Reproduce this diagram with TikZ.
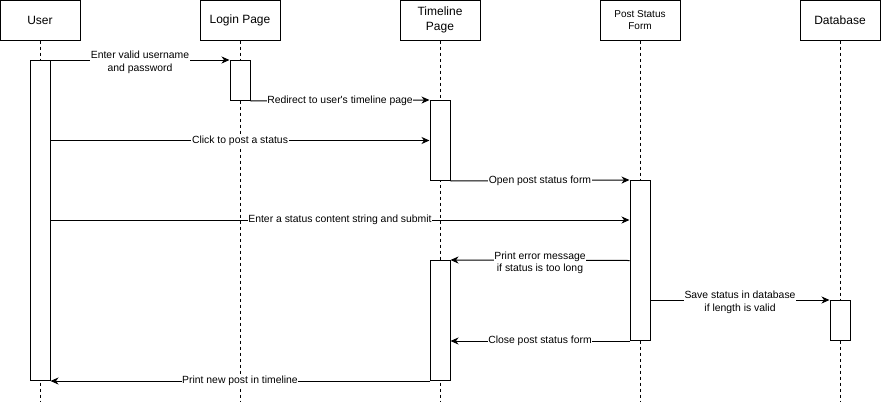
\documentclass[tikz,border=0pt]{standalone}
\usepackage{fontspec}
\setmainfont{Liberation Sans}
\usetikzlibrary{arrows.meta,calc}
\tikzstyle{head}=[rectangle, draw=black, fill=white, line width=1pt, minimum width=80pt, minimum height=40pt, inner sep=0pt, align=center, font=\fontsize{12}{14.5}\selectfont]
\tikzstyle{act}=[rectangle, draw=black, fill=white, line width=1pt, minimum width=20pt, inner sep=0pt, anchor=north]
\tikzstyle{life}=[line width=1pt, dash pattern=on 3pt off 3pt]
\tikzstyle{msg}=[line width=1pt, -{Stealth[length=8pt,width=7pt,inset=2.5pt]}]
\tikzstyle{annot}=[fill=white, inner sep=0.6pt, align=center, font=\fontsize{10.4}{12.5}\selectfont]
\tikzstyle{annot2}=[annot, yshift=-2.5pt]

\begin{document}
\begin{tikzpicture}[x=1pt, y=-1pt]
	\useasboundingbox (0,0) rectangle (881,402);
	\coordinate (bot) at (0,402);

	% lifeline heads
	\node[head](user) at (40,20){User};
	\node[head](login) at (240,20){Login Page};
	\node[head](timeline) at (440,20){Timeline\\Page};
	\node[head, font=\fontsize{10}{12}\selectfont](form) at (640,20){Post Status\\Form};
	\node[head](db) at (840,20){Database};

	\foreach \n in {user,login,timeline,form,db}
		\draw[life] (\n.south) -- (\n.south |- bot);

	% activations
	\node[act, minimum height=320pt](uact) at (40,60){};
	\node[act, minimum height=40pt](lact) at (240,60){};
	\node[act, minimum height=80pt](tact1) at (440,100){};
	\node[act, minimum height=120pt](tact2) at (440,260){};
	\node[act, minimum height=160pt](fact) at (640,180){};
	\node[act, minimum height=40pt](dact) at (840,300){};

	\coordinate (row5) at (0,220);

	% messages
	\draw[msg] (uact.north east) -- node[annot2]{Enter valid username\\and password} (lact.north west);
	\draw[msg] (lact.south east) -- node[annot]{Redirect to user\textquotesingle s timeline page} (tact1.north west);
	\draw[msg] (uact.east |- tact1.west) -- node[annot]{Click to post a status} (tact1.west);
	\draw[msg] (tact1.south east) -- node[annot]{Open post status form} (fact.north west);
	\draw[msg] (uact.east |- row5) -- node[annot]{Enter a status content string and submit} (fact.west |- row5);
	\draw[msg] (fact.west) -- node[annot2]{Print error message\\if status is too long} (tact2.north east);
	\draw[msg] (fact.east |- dact.north) -- node[annot2]{Save status in database\\if length is valid} (dact.north west);
	\draw[msg] (fact.south west) -- node[annot]{Close post status form} (tact2.east |- fact.south);
	\draw[msg] (tact2.south west) -- node[annot]{Print new post in timeline} (uact.south east);
\end{tikzpicture}
\end{document}
